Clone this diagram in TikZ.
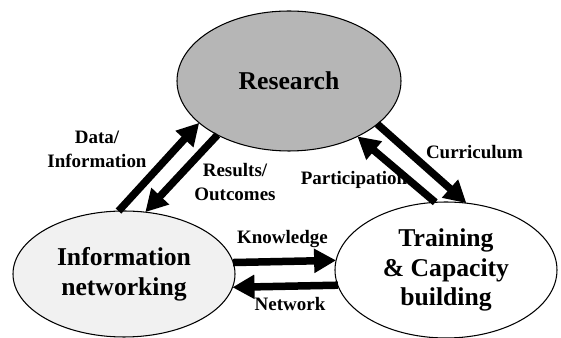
\documentclass[tikz,border=0pt]{standalone}
\usepackage{fontspec}
\setmainfont{Liberation Serif}
\usepackage{xcolor}
\definecolor{colResearch}{HTML}{B6B6B6}
\definecolor{colInfo}{HTML}{F1F1F1}
\definecolor{colLine}{HTML}{000000}
\usepackage{tikz}
\usetikzlibrary{arrows.meta, shapes.geometric}
\tikzset{
    hub/.style={
        ellipse, draw=colLine, fill=#1,
        line width=0.6pt,
        inner sep=0pt, outer sep=0pt,
        align=center,
        font=\fontsize{14.6}{17}\selectfont\bfseries
    },
    hub/.default=white,
    lbl/.style={
        align=center, inner sep=0pt,
        font=\fontsize{10.8}{13.6}\selectfont\bfseries
    },
    flow/.style={
        -{Triangle[length=0.44cm, width=0.46cm]},
        line width=0.15cm, color=colLine
    },
}

\begin{document}
\begin{tikzpicture}
    \useasboundingbox (0,0) rectangle (11.22,6.76);

    % the three areas
    \node[hub=colResearch, minimum width=4.48cm, minimum height=2.80cm]
          (res) at (5.78,5.14) {Research};
    \node[hub=colInfo, minimum width=4.44cm, minimum height=2.52cm]
          (inf) at (2.48,1.28) {Information\\networking};
    \node[hub, minimum width=4.44cm, minimum height=2.72cm]
          (trn) at (8.92,1.36) {Training\\\& Capacity\\building};

    % what flows between them
    \node[lbl] (data) at (1.94,3.78) {Data/\\Information};
    \node[lbl] (outc) at (4.70,3.12) {Results/\\Outcomes};
    \node[lbl] (curr) at (9.49,3.71) {Curriculum};
    \node[lbl] (part) at (7.08,3.16) {Participation};
    \node[lbl] (know) at (5.65,1.97) {Knowledge};
    \node[lbl] (netw) at (5.80,0.67) {Network};

    \draw[flow] (inf.95) -- (res.205.5);
    \draw[flow] (res.217.3) -- (inf.71);
    \draw[flow] (trn.99.3) -- (res.321.5);
    \draw[flow] (res.334.5) -- (trn.73.7);
    \draw[flow] (inf.6.3) -- (trn.175.9);
    \draw[flow] (trn.188.9) -- (inf.353.1);
\end{tikzpicture}
\end{document}
